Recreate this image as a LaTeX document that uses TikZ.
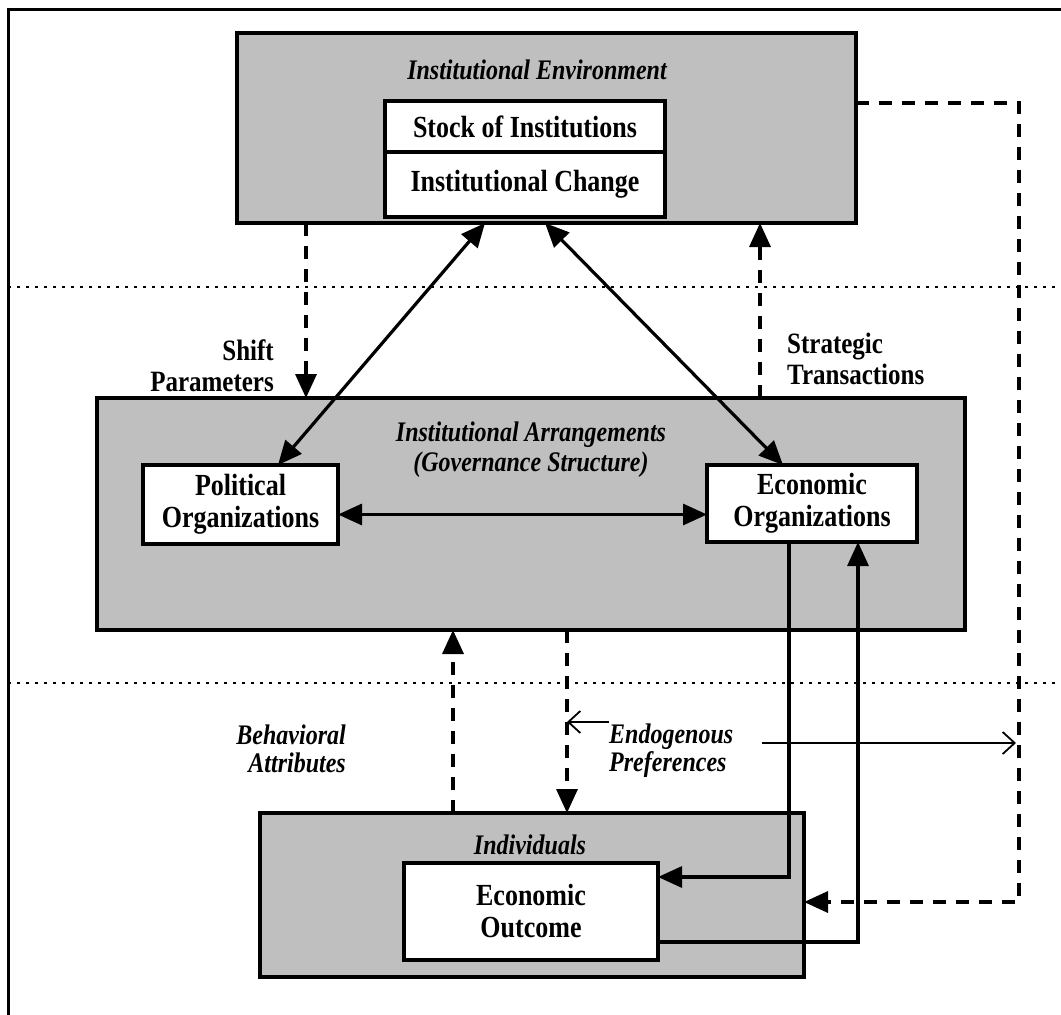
\documentclass[tikz,border=0pt]{standalone}
\usepackage{graphicx}
\usepackage{fontspec}
\setmainfont{Liberation Serif}
\usetikzlibrary{arrows.meta,calc}
\newcommand{\tl}[1]{\scalebox{1}[1.18]{#1}}
\begin{document}
\begin{tikzpicture}[x=1pt,y=-1pt,
  bigbox/.style={draw,line width=3.2pt,fill=black!25,inner sep=0pt,outer sep=0pt},
  whitebox/.style={draw,line width=3.2pt,fill=white,inner sep=0pt,outer sep=0pt,align=center,
    font=\fontsize{26}{32}\selectfont\bfseries},
  boxlabel/.style={inner sep=0pt,align=center,font=\fontsize{24}{30}\selectfont\bfseries\itshape},
  uplabel/.style={inner sep=0pt,font=\fontsize{25}{31}\selectfont\bfseries},
  itlabel/.style={inner sep=0pt,font=\fontsize{24}{28}\selectfont\bfseries\itshape},
  solidcon/.style={line width=3.2pt},
  dashcon/.style={line width=3.4pt,dash pattern=on 13pt off 10pt},
  dotline/.style={line width=2.8pt,dash pattern=on 2.6pt off 6.4pt},
  tip/.tip={Triangle[length=24pt,width=21pt]},
  thinarr/.style={line width=1.8pt,-{Straight Barb[length=12pt,width=22pt,line width=1.8pt]}}
]
\useasboundingbox (0,0) rectangle (1061,1015);
% outer frame (left and top edges)
\draw[line width=3pt] (8,1015) -- (8,9) -- (1061,9);
% level separators
\draw[dotline] (8,287) -- (1061,287);
\draw[dotline] (8,683) -- (1061,683);

% boxes
\node[bigbox,minimum width=619pt,minimum height=190pt] (env) at (546.5,128) {};
\node[whitebox,minimum width=280pt,minimum height=51pt] (stock) at (525,126.5) {\tl{Stock of Institutions}};
\node[whitebox,minimum width=280pt,minimum height=65pt] (change) at (525,184.5) {\tl{Institutional Change}};
\node[boxlabel] (envlab) at (537,70) {\tl{Institutional Environment}};

\node[bigbox,minimum width=868pt,minimum height=232pt] (arr) at (531,514) {};
\node[boxlabel] (arrlab) at (531,450) {\tl{Institutional Arrangements}\\\tl{(Governance Structure)}};
\node[whitebox,minimum width=195pt,minimum height=79pt] (pol) at (240.5,504.5) {\tl{Political}\\\tl{Organizations}};
\node[whitebox,minimum width=210pt,minimum height=77pt] (eco) at (812,503.5) {\tl{Economic}\\\tl{Organizations}};

\node[bigbox,minimum width=544pt,minimum height=164pt] (ind) at (532,895) {};
\node[boxlabel] (indlab) at (530,845) {\tl{Individuals}};
\node[whitebox,minimum width=254pt,minimum height=97pt] (out) at (531,911.5) {\tl{Economic}\\\tl{Outcome}};

% labels
\node[uplabel,anchor=east,align=right] (shift) at (274,366) {\tl{Shift}\\\tl{Parameters}};
\node[uplabel,anchor=west,align=left] (strat) at (787,359) {\tl{Strategic}\\\tl{Transactions}};
\node[itlabel,anchor=east,align=right] (behav) at (346,749) {\tl{Behavioral}\\\tl{Attributes}};
\node[itlabel,anchor=west,align=left] (endo) at (609,751) {\tl{Endogenous}\\\tl{Preferences}};

% named coordinates
\coordinate (bx) at (453,0);
\coordinate (ex) at (567,0);
\coordinate (rtop) at (1019,103);
\coordinate (rbot) at (1019,902);
\coordinate (ep) at (567,722);
\coordinate (ep1) at (762,743);
\coordinate (ep2) at (1016,743);

% dashed connectors
\draw[dashcon,-tip] ([xshift=69pt]env.south west) -- ([xshift=69pt]env.south west |- arr.north);
\draw[dashcon,-tip] ([xshift=-96pt]env.south east |- arr.north) -- ([xshift=-96pt]env.south east);
\draw[dashcon,-tip] (arr.south -| ex) -- (ind.north -| ex);
\draw[dashcon,-tip] (ind.north -| bx) -- (arr.south -| bx);
\draw[dashcon,-tip] (env.east |- rtop) -- (rtop) -- (rbot) -- (rbot -| ind.east);

% solid connectors
\draw[solidcon,tip-tip] ([xshift=248pt]env.south west) -- ([xshift=135pt]pol.north west);
\draw[solidcon,tip-tip] ([xshift=308pt]env.south west) -- ([xshift=76pt]eco.north west);
\draw[solidcon,tip-tip] ([yshift=-10pt]pol.east) -- ([yshift=-10pt]pol.east -| eco.west);
\draw[solidcon,-tip] ([xshift=-23pt]eco.south) |- ([yshift=34.5pt]out.east);
\draw[solidcon,-tip] ([yshift=-30.5pt]out.east) -| ([xshift=46pt]eco.south);

% thin arrows of endogenous preferences
\draw[thinarr] (ep -| endo.west) -- (ep);
\draw[thinarr] (ep1) -- (ep2);
\end{tikzpicture}
\end{document}
